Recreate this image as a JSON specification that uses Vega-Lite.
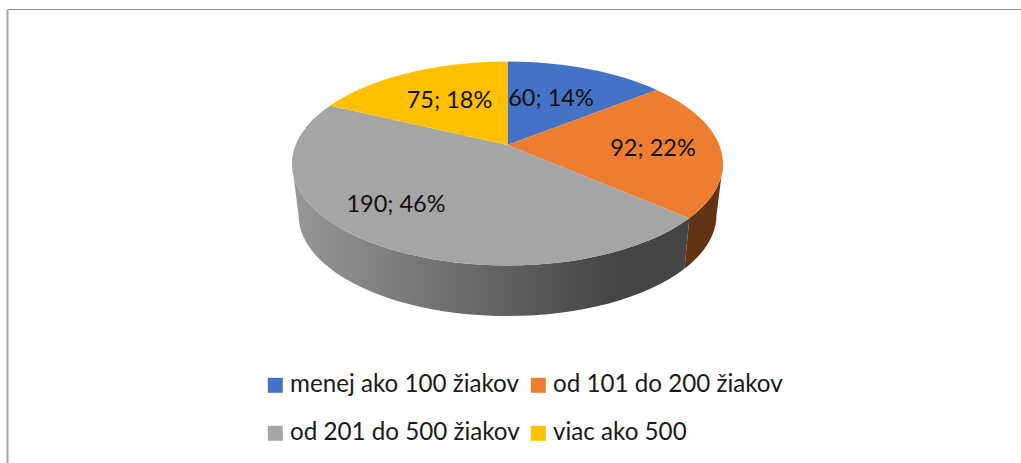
{
"$schema":"https://vega.github.io/schema/vega-lite/v6.json",
"width":1014,"height":454,
"padding":{"left":7,"top":9,"right":0,"bottom":0},
"autosize":{"type":"none"},
"background":"white",
"config":{"view":{"stroke":null},"font":"Lato"},
"data":{"values":[
{"category":"menej ako 100 žiakov","value":60,"label":"60; 14%"},
{"category":"od 101 do 200 žiakov","value":92,"label":"92; 22%"},
{"category":"od 201 do 500 žiakov","value":190,"label":"190; 46%"},
{"category":"viac ako 500","value":75,"label":"75; 18%"}
]},
"layer":[
{"mark":{"type":"point","opacity":0},
 "encoding":{
  "x":{"field":"value","type":"quantitative","scale":{"domain":[0,200]},"axis":{"orient":"top","domain":true,"domainColor":"#8c8c8c","domainWidth":1,"ticks":false,"labels":false,"grid":false,"title":null}},
  "y":{"field":"value","type":"quantitative","scale":{"domain":[0,200]},"axis":{"orient":"left","domain":true,"domainColor":"#a6a6a6","domainWidth":2,"ticks":false,"labels":false,"grid":false,"title":null}}
 }},
{"transform":[{"filter":"datum.value == 190"}],
 "mark":{"type":"point","filled":true,"size":4,"opacity":1,"strokeWidth":0,"shape":"M-222,-72.5 A215.5,102 0 0 0 -6.5,29.5 A215.5,102 0 0 0 175.3,-17.7 L170.5,32.7 A209,101 0 0 1 -6.5,80 A209,101 0 0 1 -215.5,-21 Z",
  "fill":{"x1":0,"y1":0,"x2":1,"y2":0,"gradient":"linear","stops":[{"offset":0,"color":"#989898"},{"offset":0.5,"color":"#646464"},{"offset":0.8,"color":"#454545"},{"offset":1,"color":"#444444"}]}},
 "encoding":{}},
{"transform":[{"filter":"datum.value == 92"}],
 "mark":{"type":"point","filled":true,"size":4,"opacity":1,"strokeWidth":0,"shape":"M175.3,-17.7 A215.5,102 0 0 0 209,-72.5 L202.5,-21 A209,101 0 0 1 170.5,32.7 Z","fill":"#613214"},
 "encoding":{}},
{"mark":{"type":"point","filled":true,"size":4,"opacity":1,"strokeWidth":0},
 "encoding":{
  "shape":{"field":"category","type":"nominal","legend":null,"scale":{"domain":["menej ako 100 žiakov","od 101 do 200 žiakov","od 201 do 500 žiakov","viac ako 500"],"range":[
   "M-6.5,-91 L-6.5,-174.5 A215.5,102 0 0 1 142.7,-146.1 Z",
   "M-6.5,-91 L142.7,-146.1 A215.5,102 0 0 1 209,-72.5 A215.5,102 0 0 1 175.3,-17.7 Z",
   "M-6.5,-91 L175.3,-17.7 A215.5,102 0 0 1 -6.5,29.5 A215.5,102 0 0 1 -222,-72.5 A215.5,102 0 0 1 -184,-130.3 Z",
   "M-6.5,-91 L-184,-130.3 A215.5,102 0 0 1 -6.5,-174.5 Z"]}},
  "color":{"field":"category","type":"nominal","legend":null,"scale":{"domain":["menej ako 100 žiakov","od 101 do 200 žiakov","od 201 do 500 žiakov","viac ako 500"],"range":["#4472C4","#ED7D31","#A5A5A5","#FFC000"]}}
 }},
{"mark":{"type":"text","font":"Lato","fontSize":23.5,"color":"#111111","align":"center","baseline":"middle"},
 "encoding":{
  "text":{"field":"label","type":"nominal"},
  "x":{"field":"value","type":"quantitative","axis":null,"scale":{"domain":[60,75,92,190],"range":[544,442.5,646,389],"zero":false,"nice":false}},
  "y":{"field":"value","type":"quantitative","axis":null,"scale":{"domain":[60,75,92,190],"range":[90,91.7,140,196],"zero":false,"nice":false}}
 }},
{"mark":{"type":"square","size":225,"opacity":1},
 "encoding":{
  "color":{"field":"category","type":"nominal","legend":null},
  "x":{"field":"value","type":"quantitative","axis":null,"scale":{"domain":[60,75,92,190],"range":[268.3,531.3,531.3,268.3],"zero":false,"nice":false}},
  "y":{"field":"value","type":"quantitative","axis":null,"scale":{"domain":[60,75,92,190],"range":[376.3,424.3,376.3,424.3],"zero":false,"nice":false}}
 }},
{"mark":{"type":"text","font":"Lato","fontSize":24.2,"color":"#1a1a1a","align":"left","baseline":"middle"},
 "encoding":{
  "text":{"field":"category","type":"nominal"},
  "x":{"field":"value","type":"quantitative","axis":null,"scale":{"domain":[60,75,92,190],"range":[283,546,546,283],"zero":false,"nice":false}},
  "y":{"field":"value","type":"quantitative","axis":null,"scale":{"domain":[60,75,92,190],"range":[376,423.5,376,423.5],"zero":false,"nice":false}}
 }}
],
"resolve":{"scale":{"x":"independent","y":"independent"}}
}
